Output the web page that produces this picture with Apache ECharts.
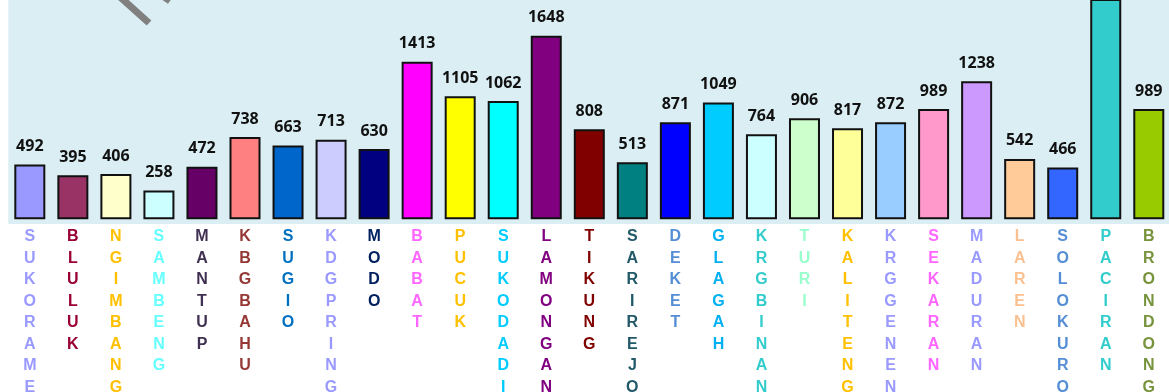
<!DOCTYPE html>
<html>
<head>
<meta charset="utf-8">
<script src="https://cdn.jsdelivr.net/npm/echarts@6/dist/echarts.min.js"></script>
<style>
  html, body { margin: 0; padding: 0; background: #ffffff; }
  #chart { width: 1169px; height: 392px; }
</style>
</head>
<body>
<div id="chart"></div>
<script>
// Sub-districts (kecamatan) shown along the category axis
const categories = [
  'SUKORAME', 'BLULUK', 'NGIMBANG', 'SAMBENG', 'MANTUP', 'KBGBAHU', 'SUGIO',
  'KDGPRING', 'MODO', 'BABAT', 'PUCUK', 'SUKODADI', 'LAMONGAN', 'TIKUNG',
  'SARIREJO', 'DEKET', 'GLAGAH', 'KRGBINAN', 'TURI', 'KALITENG', 'KRGGENEN',
  'SEKARAN', 'MADURAN', 'LAREN', 'SOLOKURO', 'PACIRAN', 'BRONDONG'
];

// Count per sub-district
const values = [
  492, 395, 406, 258, 472, 738, 663,
  713, 630, 1413, 1105, 1062, 1648, 808,
  513, 871, 1049, 764, 906, 817, 872,
  989, 1238, 542, 466, 2150, 989
];

// Fill colour of each bar
const barColors = [
  '#9999ff', '#993366', '#ffffcc', '#ccffff', '#660066', '#ff8080', '#0066cc',
  '#ccccff', '#000080', '#ff00ff', '#ffff00', '#00ffff', '#800080', '#800000',
  '#008080', '#0000ff', '#00ccff', '#ccffff', '#ccffcc', '#ffff99', '#99ccff',
  '#ff99cc', '#cc99ff', '#ffcc99', '#3366ff', '#33cccc', '#99cc00'
];

// Colour of each vertical category name
const labelColors = [
  '#9999ff', '#990033', '#ffc000', '#66ffff', '#403152', '#953735', '#0070c0',
  '#9999ff', '#002060', '#ff66ff', '#ffc000', '#00ccff', '#800080', '#800000',
  '#215968', '#558ed5', '#00b0f0', '#33cccc', '#99ffcc', '#ffc000', '#9999ff',
  '#ff66ff', '#9999ff', '#fac090', '#558ed5', '#33cccc', '#77933c'
];

const chart = echarts.init(document.getElementById('chart'), null, { renderer: 'canvas' });

const option = {
  backgroundColor: '#ffffff',
  animation: false,
  grid: {
    left: 8.3,
    width: 1162,
    top: 0,
    bottom: 168,
    outerBoundsMode: 'none',
    containLabel: false,
    show: true,
    backgroundColor: '#daeef3',
    borderWidth: 0
  },
  graphic: [
    {
      type: 'line',
      z: 100,
      shape: { x1: 119, y1: -4, x2: 149, y2: 23 },
      style: { stroke: '#808080', lineWidth: 7 }
    },
    {
      type: 'line',
      z: 100,
      shape: { x1: 160, y1: -6, x2: 170, y2: 1 },
      style: { stroke: '#808080', lineWidth: 7 }
    }
  ],
  xAxis: {
    type: 'category',
    data: categories,
    axisLine: { show: false, onZero: false },
    axisTick: { show: false },
    splitLine: { show: false },
    axisLabel: {
      interval: 0,
      margin: 2,
      hideOverlap: false,
      fontFamily: '"Liberation Sans", Arial, sans-serif',
      fontWeight: 'bold',
      fontSize: 16,
      lineHeight: 21.5,
      formatter: (v) => v.split('').join('\n'),
      color: (v, i) => labelColors[i]
    }
  },
  yAxis: {
    type: 'value',
    min: -42,
    max: 1968,
    show: false,
    splitLine: { show: false }
  },
  series: [
    {
      type: 'bar',
      barWidth: 31,
      clip: true,
      data: values.map((v, i) => ({
        value: v,
        itemStyle: { color: barColors[i] }
      })),
      itemStyle: {
        borderColor: '#111111',
        borderWidth: 2
      },
      label: {
        show: true,
        position: 'top',
        distance: 10,
        color: '#111111',
        fontFamily: '"Open Sans", sans-serif',
        fontWeight: 'bold',
        fontSize: 16
      }
    }
  ]
};

chart.setOption(option);
</script>
</body>
</html>
